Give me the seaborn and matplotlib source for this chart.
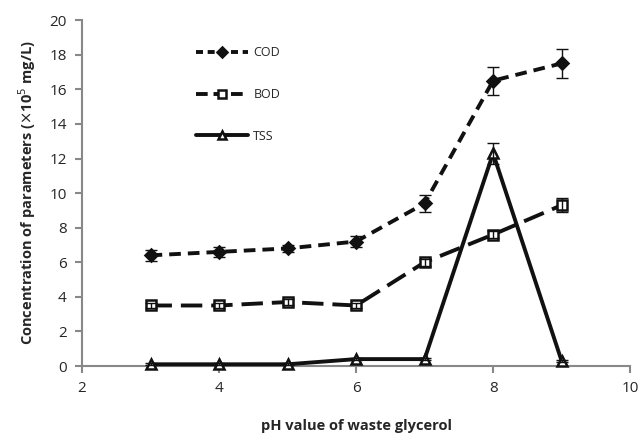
import numpy as np
import pandas as pd
import matplotlib
matplotlib.use("Agg")
import matplotlib.pyplot as plt
import seaborn as sns

ph = [3, 4, 5, 6, 7, 8, 9]
cod = [6.4, 6.6, 6.8, 7.2, 9.4, 16.5, 17.5]
cod_err = [0.3, 0.3, 0.2, 0.3, 0.5, 0.8, 0.85]
bod = [3.5, 3.5, 3.7, 3.5, 6.0, 7.6, 9.3]
bod_err = [0.15, 0.15, 0.15, 0.15, 0.2, 0.2, 0.4]
tss = [0.1, 0.1, 0.1, 0.4, 0.4, 12.3, 0.3]
tss_err = [0.05, 0.05, 0.05, 0.05, 0.05, 0.6, 0.05]

sns.set_style("white")
plt.rcParams['font.family'] = ['Open Sans', 'DejaVu Sans']

fig = plt.figure(figsize=(6.41, 4.48), dpi=100)
ax = fig.add_axes([0.128, 0.183, 0.855, 0.772])

series = [
    ("COD", cod, cod_err, "D", "#111111", (0, (3.0, 1.8)), 6.5),
    ("BOD", bod, bod_err, "s", "white", (0, (5.5, 2.3)), 7),
    ("TSS", tss, tss_err, "^", "white", "-", 7),
]
for name, vals, err, mk, fc, ls, ms in series:
    df = pd.DataFrame({"pH": ph, "val": vals})
    sns.lineplot(data=df, x="pH", y="val", ax=ax, color="#111111", lw=2.8,
                 linestyle=ls, marker=mk, markersize=ms, markerfacecolor=fc,
                 markeredgecolor="#111111", markeredgewidth=1.8, label=name,
                 clip_on=False, zorder=3)
    ax.errorbar(ph, vals, yerr=err, fmt="none", ecolor="#111111",
                elinewidth=1.0, capsize=4, capthick=1.0, zorder=4)

ax.set_xlim(2, 10)
ax.set_ylim(0, 20)
ax.set_xticks([2, 4, 6, 8, 10])
ax.set_yticks(range(0, 21, 2))
for s in ["top", "right"]:
    ax.spines[s].set_visible(False)
for s in ["left", "bottom"]:
    ax.spines[s].set_color("#888888")
    ax.spines[s].set_linewidth(1.5)
ax.tick_params(axis="both", direction="out", length=5, width=1.5,
               color="#888888", labelsize=11, pad=6, left=True, bottom=True)
ax.set_xlabel("pH value of waste glycerol", fontsize=10.5, fontweight="bold", labelpad=16)
ax.set_ylabel("Concentration of parameters ($\\times$10$^5$ mg/L)", fontsize=10.5,
              fontweight="bold", labelpad=8)

leg = ax.legend(loc="upper left", bbox_to_anchor=(0.187, 0.957), frameon=False,
                handlelength=4.2, labelspacing=2.3, fontsize=9, handletextpad=0.4,
                markerscale=0.8)
# shorter dashes in the legend keys so the pattern shows
leg_lines = leg.get_lines()
leg_lines[0].set_linestyle((0, (1.8, 1.2)))
leg_lines[1].set_linestyle((0, (3.0, 1.5)))

fig.savefig("out.png", dpi=100)
